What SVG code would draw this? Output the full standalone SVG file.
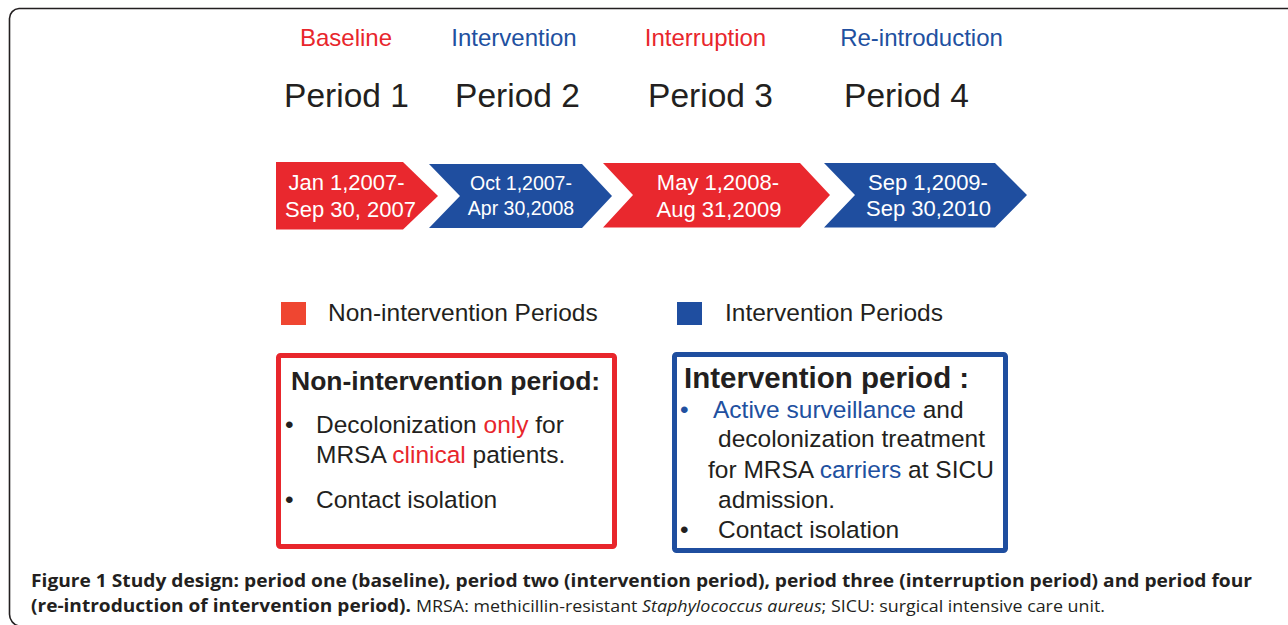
<svg xmlns="http://www.w3.org/2000/svg" width="1288" height="625" viewBox="0 0 1288 625">
  <style>
    .sans { font-family: "Liberation Sans", Arial, sans-serif; }
    .dark { fill: #231f20; }
    .red { fill: #e8262c; }
    .blue { fill: #2150a0; }
    .white { fill: #ffffff; }
    .phase { font-size: 24px; text-anchor: middle; }
    .period { font-size: 33.5px; text-anchor: middle; }
    .date { font-size: 22px; text-anchor: middle; }
    .date-sm { font-size: 19.5px; text-anchor: middle; }
    .legend { font-size: 24.5px; }
    .item { font-size: 24.5px; }
    .cap { font-family: "Open Sans", "Liberation Sans", sans-serif; font-size: 17px; fill: #231f20; }
    .capb { font-weight: bold; }
  </style>

  <rect width="1288" height="625" fill="#ffffff"/>

  <!-- outer figure frame -->
  <path d="M1288,8.5 H19 A10,10 0 0 0 9.5,18.5 V614 A12,12 0 0 0 19,626" fill="none" stroke="#231f20" stroke-width="1.6"/>

  <!-- phase names -->
  <g id="phase-labels" class="sans">
    <text class="phase red" x="346" y="46">Baseline</text>
    <text class="phase blue" x="514" y="46">Intervention</text>
    <text class="phase red" x="705.5" y="46">Interruption</text>
    <text class="phase blue" x="921.5" y="46">Re-introduction</text>
  </g>

  <g id="period-labels" class="sans dark">
    <text class="period" x="346.5" y="107">Period 1</text>
    <text class="period" x="517.5" y="107">Period 2</text>
    <text class="period" x="710.5" y="107">Period 3</text>
    <text class="period" x="906.5" y="107">Period 4</text>
  </g>

  <!-- timeline chevrons -->
  <g id="period1" class="sans">
    <polygon points="276,162 403,162 438,196 403,229.5 276,229.5" fill="#e9282e"/>
    <text class="date white" x="346.5" y="190">Jan 1,2007-</text>
    <text class="date white" x="350.5" y="216.5">Sep 30, 2007</text>
  </g>
  <g id="period2" class="sans">
    <polygon points="429,164 582,164 612,196 582,228 429,228 460,196" fill="#1f4e9f"/>
    <text class="date-sm white" x="521" y="190">Oct 1,2007-</text>
    <text class="date-sm white" x="521" y="214.5">Apr 30,2008</text>
  </g>
  <g id="period3" class="sans">
    <polygon points="603,163 800,163 830,195 800,227.5 603,227.5 633,195" fill="#e9282e"/>
    <text class="date white" x="718" y="190">May 1,2008-</text>
    <text class="date white" x="719" y="216.5">Aug 31,2009</text>
  </g>
  <g id="period4" class="sans">
    <polygon points="824,163 995,163 1027,195 995,227.5 824,227.5 855,195" fill="#1f4e9f"/>
    <text class="date white" x="928" y="190">Sep 1,2009-</text>
    <text class="date white" x="928.5" y="216">Sep 30,2010</text>
  </g>

  <!-- legend -->
  <g id="legend" class="sans dark">
    <rect x="281" y="302" width="25" height="23" fill="#ef4631"/>
    <text class="legend" x="328" y="321">Non-intervention Periods</text>
    <rect x="677" y="302" width="25" height="23" fill="#1f4ea0"/>
    <text class="legend" x="725" y="321">Intervention Periods</text>
  </g>

  <!-- non-intervention description -->
  <g id="non-intervention-box" class="sans dark">
    <rect x="278.5" y="355.5" width="336" height="191" rx="2" fill="#ffffff" stroke="#e8262c" stroke-width="5"/>
    <text x="291" y="390" font-size="26.5" font-weight="bold">Non-intervention period:</text>
    <text class="item" x="285" y="433">•</text>
    <text class="item" x="316" y="433">Decolonization <tspan class="red">only</tspan> for</text>
    <text class="item" x="316" y="463">MRSA <tspan class="red">clinical</tspan> patients.</text>
    <text class="item" x="285" y="508">•</text>
    <text class="item" x="316" y="508">Contact isolation</text>
  </g>

  <!-- intervention description -->
  <g id="intervention-box" class="sans dark">
    <rect x="674.5" y="354.5" width="331" height="196" rx="2" fill="#ffffff" stroke="#1f4e9f" stroke-width="5"/>
    <text x="684" y="388" font-size="29.5" font-weight="bold">Intervention period :</text>
    <text class="item blue" x="680" y="418">•</text>
    <text class="item" x="713" y="418"><tspan class="blue">Active surveillance</tspan> and</text>
    <text class="item" x="718" y="447">decolonization treatment</text>
    <text class="item" x="708" y="478">for MRSA <tspan class="blue">carriers</tspan> at SICU</text>
    <text class="item" x="718" y="508">admission.</text>
    <text class="item" x="680" y="538">•</text>
    <text class="item" x="718" y="538">Contact isolation</text>
  </g>

  <!-- figure caption -->
  <g id="caption">
    <text class="cap capb" x="31" y="587" textLength="1221" lengthAdjust="spacingAndGlyphs">Figure 1 Study design: period one (baseline), period two (intervention period), period three (interruption period) and period four</text>
    <text class="cap capb" x="31" y="612" textLength="380" lengthAdjust="spacingAndGlyphs">(re-introduction of intervention period).</text>
    <text class="cap" x="416" y="612" textLength="689" lengthAdjust="spacingAndGlyphs">MRSA: methicillin-resistant <tspan font-style="italic">Staphylococcus aureus</tspan>; SICU: surgical intensive care unit.</text>
  </g>
</svg>
